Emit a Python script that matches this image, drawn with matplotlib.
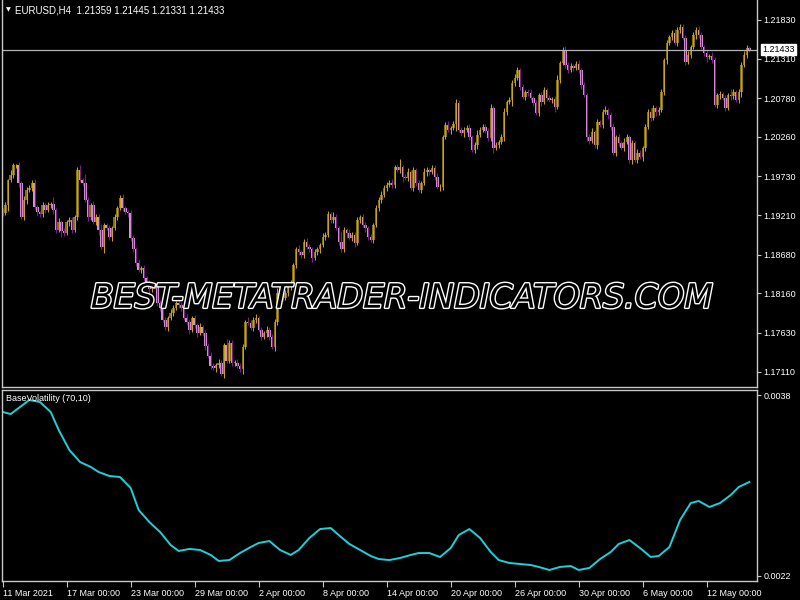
import numpy as np
import matplotlib
matplotlib.use("Agg")
import matplotlib.pyplot as plt
import matplotlib.patheffects as pe

# EURUSD H4 closes (opens = previous close)
first_open = 1.1928
closes = [
    1.1924, 1.1935, 1.1968, 1.1975, 1.1988, 1.1988, 1.1964, 1.1919, 1.1942, 1.1955,
    1.1958, 1.1964, 1.1932, 1.1925, 1.1922, 1.1935, 1.1928, 1.1935, 1.1936, 1.1928,
    1.1901, 1.1912, 1.1900, 1.1897, 1.1912, 1.1915, 1.1901, 1.1919, 1.1982, 1.1968,
    1.1964, 1.1942, 1.1918, 1.1935, 1.1912, 1.1919, 1.1901, 1.1879, 1.1908, 1.1904,
    1.1892, 1.1904, 1.1918, 1.1931, 1.1944, 1.1931, 1.1925, 1.1924, 1.1891, 1.1875,
    1.1857, 1.1848, 1.1850, 1.1837, 1.1830, 1.1822, 1.1826, 1.1825, 1.1803, 1.1797,
    1.1781, 1.1771, 1.1783, 1.1790, 1.1797, 1.1803,
    1.1801, 1.1797, 1.1783, 1.1778, 1.1767, 1.1783, 1.1773, 1.1763, 1.1771, 1.1763,
    1.1746, 1.1732, 1.1719, 1.1716, 1.1720, 1.1723, 1.1708, 1.1747, 1.1726, 1.1750,
    1.1723, 1.1723, 1.1719, 1.1714, 1.1744, 1.1778, 1.1777, 1.1770, 1.1781, 1.1783,
    1.1767, 1.1758, 1.1763, 1.1767, 1.1758, 1.1744, 1.1778, 1.1817, 1.1819, 1.1810,
    1.1817, 1.1825, 1.1830, 1.1854, 1.1875, 1.1871, 1.1868, 1.1885, 1.1879, 1.1875,
    1.1864, 1.1872, 1.1875, 1.1881, 1.1892, 1.1895, 1.1922, 1.1915, 1.1919, 1.1904,
    1.1885, 1.1875, 1.1901, 1.1897, 1.1891, 1.1895, 1.1884, 1.1915, 1.1918, 1.1908,
    1.1904, 1.1892,
    1.1888, 1.1908, 1.1931, 1.1942, 1.1948, 1.1958, 1.1962, 1.1964, 1.1962, 1.1986,
    1.1982, 1.1986, 1.1972, 1.1971, 1.1979, 1.1958, 1.1982, 1.1964, 1.1955, 1.1964,
    1.1979, 1.1982, 1.1979, 1.1985, 1.1972, 1.1959, 1.1959, 1.2026, 1.2042, 1.2036,
    1.2038, 1.2044, 1.2072, 1.2036, 1.2031, 1.2036, 1.2038, 1.2026, 1.2009, 1.2015,
    1.2029, 1.2036, 1.2040, 1.2034, 1.2025, 1.2065, 1.2011, 1.2015, 1.2019, 1.2026,
    1.2060, 1.2073, 1.2076, 1.2099, 1.2105, 1.2116, 1.2093, 1.2080, 1.2086, 1.2085,
    1.2078, 1.2072, 1.2058, 1.2082, 1.2073, 1.2089, 1.2078, 1.2076, 1.2077, 1.2066,
    1.2103, 1.2125, 1.2143, 1.2123, 1.2116, 1.2121, 1.2119, 1.2124, 1.2116, 1.2096,
    1.2082, 1.2026, 1.2021, 1.2033, 1.2015, 1.2046, 1.2042, 1.2060, 1.2062, 1.2056,
    1.2040, 1.2005, 1.2026, 1.2018, 1.2011, 1.2019, 1.2026, 1.1995, 1.2018, 1.1995,
    1.2005, 1.1999, 1.2011, 1.2040, 1.2060, 1.2052, 1.2065, 1.2060, 1.2062, 1.2086,
    1.2129, 1.2152, 1.2160, 1.2166, 1.2152, 1.2170, 1.2174, 1.2159, 1.2127, 1.2136,
    1.2147, 1.2163, 1.2170, 1.2163, 1.2147, 1.2139, 1.2133, 1.2135, 1.2129, 1.2069,
    1.2082, 1.2084, 1.2078, 1.2065, 1.2082, 1.2081, 1.2086, 1.2076, 1.2086, 1.2123,
    1.2136, 1.2145, 1.2143,
]

# wick lengths in pips above / below the candle body
wick_up = [
    3, 4, 2, 6, 3, 2, 4, 3, 5, 4, 3, 4, 6, 3, 2, 4, 3, 4, 3, 9,
    3, 5, 2, 4, 3, 4, 3, 2, 4, 6, 3, 12, 4, 3, 5, 3, 4, 8, 3, 3,
    4, 3, 5, 3, 4, 6, 3, 3, 4, 4, 3, 5, 3, 4, 3, 4, 6, 3, 5, 4,
    3, 4, 3, 5, 4, 3, 6, 4, 3, 5, 4, 3, 4, 3, 5, 3, 4, 3, 6, 4,
    3, 5, 4, 3, 8, 4, 3, 4, 5, 3, 4, 3, 6, 3, 4, 5, 3, 4, 3, 5,
    4, 3, 4, 6, 3, 4, 3, 5, 4, 3, 4, 6, 3, 4, 5, 3, 4, 3, 4, 3,
    5, 3, 4, 3, 6, 4, 3, 14, 4, 3, 5, 4, 3, 4, 3, 5, 4, 3, 4, 3,
    4, 3, 5, 4, 3, 4, 6, 3, 4, 10, 3, 4, 5, 3, 4, 3, 4, 3, 5, 4,
    3, 4, 3, 5, 4, 3, 4, 6, 3, 4, 5, 3, 4, 3, 4, 5, 3, 4, 6, 3,
    4, 3, 4, 5, 3, 4, 3, 4, 5, 3, 4, 3, 5, 4, 3, 4, 3, 4, 5, 3,
    4, 3, 5, 4, 3, 4, 3, 4, 6, 3, 4, 5, 3, 4, 3, 4, 5, 3, 4, 3,
    4, 5, 3, 4, 3, 4, 6, 3, 4, 5, 3, 4, 3, 5, 4, 3, 4, 3, 5, 4,
    3, 4, 3, 5, 4, 3, 4, 5, 3, 4, 3, 4, 5, 3, 4, 3, 4, 6, 3, 4,
    3, 5, 4, 3, 4, 3, 5, 4, 3, 4, 3, 4, 3, 8, 4, 3, 4, 3, 5, 4,
    3,
]
wick_dn = [
    4, 3, 8, 3, 4, 3, 5, 3, 4, 6, 3, 4, 3, 5, 4, 3, 4, 3, 4, 6,
    4, 3, 8, 4, 3, 5, 4, 3, 4, 3, 4, 3, 5, 4, 3, 4, 6, 4, 9, 3,
    4, 6, 3, 4, 3, 4, 3, 5, 4, 3, 4, 3, 5, 4, 3, 6, 4, 3, 4, 5,
    3, 4, 6, 3, 4, 3, 4, 5, 3, 4, 6, 3, 4, 5, 3, 4, 6, 3, 4, 3,
    5, 4, 3, 6, 4, 3, 5, 4, 3, 4, 6, 3, 4, 3, 5, 4, 3, 4, 3, 6,
    4, 3, 5, 4, 3, 4, 3, 4, 5, 3, 4, 3, 5, 4, 3, 4, 6, 3, 4, 5,
    3, 4, 3, 4, 5, 3, 4, 3, 4, 6, 3, 4, 5, 3, 4, 3, 5, 4, 3, 4,
    3, 5, 4, 3, 4, 3, 4, 5, 3, 4, 6, 3, 4, 3, 5, 4, 3, 4, 3, 5,
    4, 3, 4, 3, 5, 4, 3, 4, 6, 3, 10, 3, 4, 5, 3, 4, 3, 4, 5, 3,
    4, 3, 5, 4, 6, 3, 4, 3, 5, 4, 3, 8, 4, 3, 4, 3, 5, 4, 3, 4,
    3, 4, 5, 3, 4, 3, 4, 6, 3, 4, 3, 5, 4, 3, 4, 3, 4, 5, 3, 6,
    4, 3, 4, 5, 3, 4, 3, 6, 4, 3, 5, 4, 3, 4, 3, 4, 5, 3, 4, 3,
    5, 4, 3, 4, 3, 6, 4, 3, 4, 5, 3, 4, 3, 4, 5, 3, 4, 3, 4, 3,
    5, 4, 3, 4, 6, 3, 4, 3, 4, 5, 3, 4, 3, 5, 4, 3, 4, 6, 3, 4,
    3,
]

# BaseVolatility (70,10), sampled at these bars
vol_bars = [0, 3, 6, 10, 14, 18, 21, 25, 29, 33, 36, 40, 44, 48, 51, 55, 59, 63, 66,
            70, 74, 78, 81, 85, 89, 93, 96, 100, 104, 108, 111, 115, 119, 123, 126,
            130, 134, 138, 141, 145, 149, 153, 156, 160, 164, 168, 171, 175, 179, 183,
            186, 190, 194, 198, 201, 205, 209, 213, 216, 220, 224, 228, 231, 235, 239,
            243, 246, 250, 254, 258, 261, 265, 269, 273, 276, 280]
vol_vals = [365.0, 363.2, 368.5, 375.6, 373.8, 365.0, 349.1, 331.4, 320.8, 316.4,
            311.9, 308.4, 307.5, 297.8, 278.3, 267.7, 258.9, 247.4, 242.1, 243.9,
            243.0, 238.6, 233.3, 234.1, 240.3, 245.6, 249.2, 250.9, 243.0, 238.6,
            243.0, 253.6, 261.5, 262.4, 256.2, 248.3, 243.0, 237.7, 235.0, 234.1,
            235.9, 238.6, 240.3, 240.3, 236.8, 244.7, 256.2, 261.5, 253.6, 241.2,
            234.1, 231.5, 230.6, 229.7, 228.0, 225.3, 228.0, 228.8, 225.3, 227.1,
            235.0, 241.2, 248.3, 251.8, 244.7, 236.8, 237.7, 245.6, 269.5, 284.5,
            286.3, 281.0, 284.5, 291.6, 298.7, 303.1]

price_ticks = [1.21830, 1.21310, 1.20780, 1.20260, 1.19730,
               1.19210, 1.18680, 1.18160, 1.17630, 1.17110]
date_bars = [0, 24, 48, 72, 96, 120, 144, 168, 192, 216, 240, 264]
date_labels = ["11 Mar 2021", "17 Mar 00:00", "23 Mar 00:00", "29 Mar 00:00",
               "2 Apr 00:00", "8 Apr 00:00", "14 Apr 00:00", "20 Apr 00:00",
               "26 Apr 00:00", "30 Apr 00:00", "6 May 00:00", "12 May 00:00"]
last_price = 1.21433

closes = np.array(closes)
opens = np.concatenate([[first_open], closes[:-1]])
top = np.maximum(opens, closes)
bot = np.minimum(opens, closes)
highs = top + np.array(wick_up) / 10000
lows = bot - np.array(wick_dn) / 10000
x = np.arange(len(closes))
bull = closes >= opens
body = np.maximum(top - bot, 0.00004)

plt.rcParams["font.family"] = ["Liberation Sans", "DejaVu Sans"]
fg = "#c8c8c8"

fig = plt.figure(figsize=(8, 6), dpi=100, facecolor="black")
ax = fig.add_axes([0.0021, 0.3558, 0.944, 0.6442], facecolor="black")
ax2 = fig.add_axes([0.0021, 0.0322, 0.944, 0.3183], facecolor="black")

for a in (ax, ax2):
    a.set_xlim(-0.375, 282.8)
    for s in a.spines.values():
        s.set_color(fg)
        s.set_linewidth(1)
    a.yaxis.tick_right()
    a.tick_params(axis="y", colors=fg, labelcolor="white", direction="out",
                  length=3, width=0.8, labelsize=6.5, pad=2)
ax.spines["top"].set_visible(False)

# candles
ax.vlines(x[~bull], lows[~bull], highs[~bull], color="#7a1d88", lw=0.8)
ax.bar(x[~bull], body[~bull], bottom=bot[~bull], width=0.9,
       color="#dc8fdc", linewidth=0)
ax.bar(x[bull], body[bull], bottom=bot[bull], width=0.9,
       color="#8a7200", linewidth=0)
ax.vlines(x[bull], lows[bull], highs[bull], color="#d2a800", lw=0.7)

ax.axhline(last_price, color="#b4b4b4", lw=0.9)
ax.set_ylim(1.16911, 1.22098)
ax.set_yticks(price_ticks)
ax.set_yticklabels(["%.5f" % p for p in price_ticks])
ax.set_xticks([])
ax.annotate("%.5f" % last_price, xy=(1.0, last_price),
            xycoords=("axes fraction", "data"), xytext=(4, 0),
            textcoords="offset points", va="center", ha="left",
            fontsize=6.5, color="black",
            bbox=dict(boxstyle="square,pad=0.15", fc="white", ec="white"))

ax.text(0.006, 0.974, "\u25bc", transform=ax.transAxes, fontsize=4.5,
        color="white", va="center", ha="left", family="DejaVu Sans")
ax.text(0.018, 0.974, "EURUSD,H4  1.21359 1.21445 1.21331 1.21433",
        transform=ax.transAxes, fontsize=7, color="white", va="center", ha="left")

# indicator
ax2.plot(vol_bars, np.array(vol_vals) / 100000, color="#20d0d8", lw=1.4,
         solid_joinstyle="round")
ax2.set_ylim(0.0021585, 0.003847)
ax2.set_yticks([0.0038, 0.0022])
ax2.set_yticklabels(["0.0038", "0.0022"])
ax2.set_xticks(date_bars)
ax2.set_xticklabels(date_labels, ha="left")
ax2.tick_params(axis="x", colors=fg, labelcolor="white", direction="out",
                length=4, width=0.8, labelsize=6.5, pad=2)
ax2.text(0.006, 0.955, "BaseVolatility (70,10)", transform=ax2.transAxes,
         fontsize=6.5, color="white", va="center", ha="left")

fig.text(0.503, 0.503, "BEST-METATRADER-INDICATORS.COM", fontsize=24,
         style="italic", color="black", ha="center", va="center",
         family="DejaVu Sans",
         path_effects=[pe.withStroke(linewidth=2.0, foreground="white")])

fig.savefig("out.png", dpi=100, facecolor="black")
